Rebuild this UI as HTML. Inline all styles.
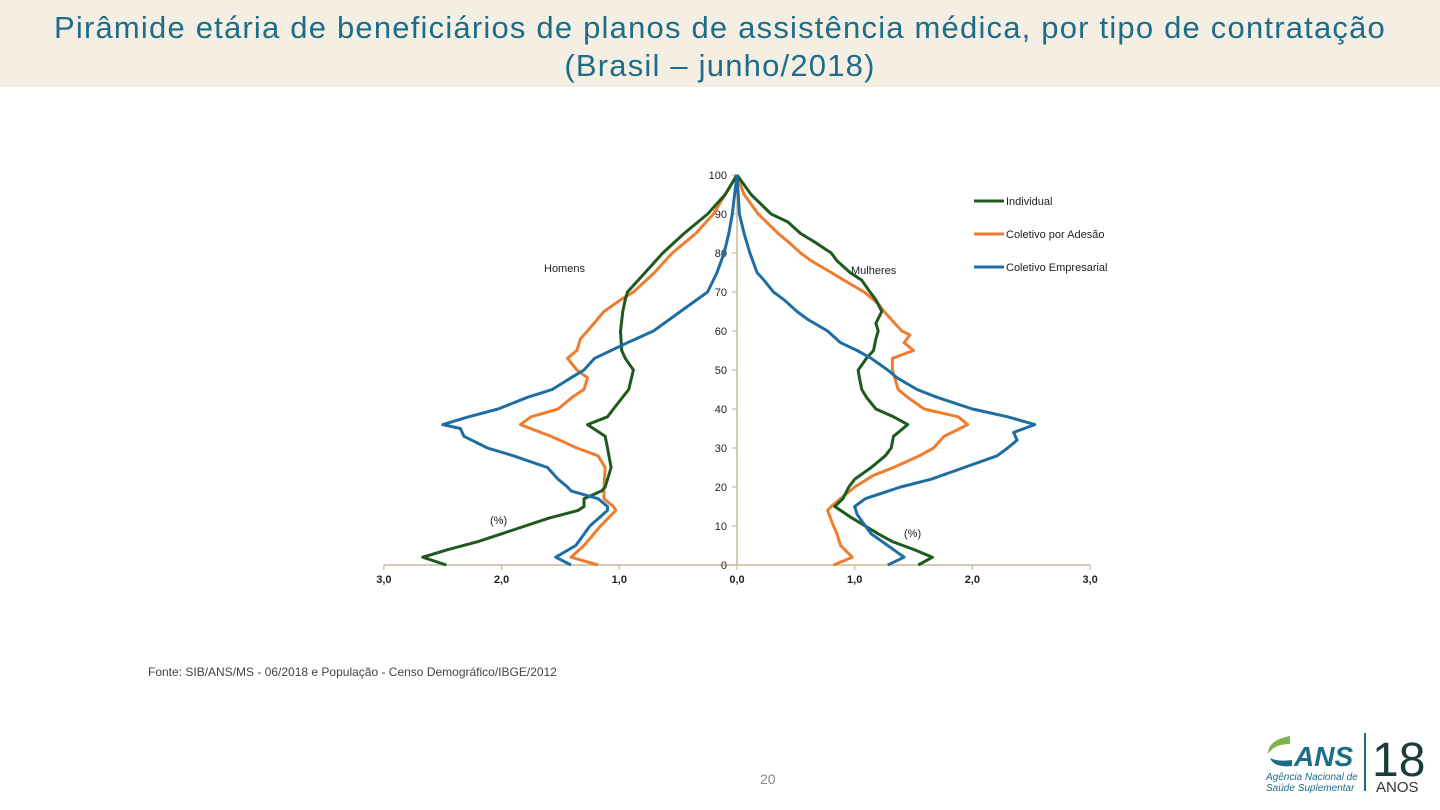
<!DOCTYPE html>
<html><head><meta charset="utf-8">
<style>
body{margin:0;width:1440px;height:810px;background:#fff;font-family:"Liberation Sans",sans-serif;overflow:hidden;position:relative}
#hdr{position:absolute;left:0;top:0;width:1440px;height:87px;background:#f5efe3}
#title{position:absolute;left:0;top:9px;width:1440px;text-align:center;color:#1d6d8a;font-size:31px;line-height:38px;letter-spacing:1.2px}
#src{position:absolute;left:148px;top:665px;font-size:12px;color:#444}
#pg{position:absolute;left:760px;top:771px;font-size:14px;color:#888}
svg{position:absolute;left:0;top:0}
</style></head><body>
<div id="hdr"></div>
<div id="title">Pirâmide etária de beneficiários de planos de assistência médica, por tipo de contratação<br>(Brasil – junho/2018)</div>
<svg id="chart" width="1440" height="810"></svg>
<div id="src">Fonte: SIB/ANS/MS - 06/2018 e População - Censo Demográfico/IBGE/2012</div>
<div id="pg">20</div>
<svg width="1440" height="810">
<path d="M1290 736 q-22 4 -22 18 q6 -10 22 -10z" fill="#7ab648"/>
<path d="M1270 758 q4 10 22 8 v-6 q-14 2 -22 -2z" fill="#1d6d8a"/>
<text x="1294" y="766" font-size="28" font-weight="bold" font-style="italic" fill="#1d6d8a" font-family="Liberation Sans">ANS</text>
<text x="1266" y="780" font-size="10" font-style="italic" fill="#1d6d8a" font-family="Liberation Sans">Agência Nacional de</text>
<text x="1266" y="791" font-size="10" font-style="italic" fill="#1d6d8a" font-family="Liberation Sans">Saúde Suplementar</text>
<rect x="1364" y="733" width="2" height="58" fill="#1d6d8a"/>
<text x="1372" y="776" font-size="48" fill="#1a3d3a" font-family="Liberation Sans">18</text>
<text x="1376" y="792" font-size="15" fill="#333" font-family="Liberation Sans">ANOS</text>
</svg>
<script>
const menIndAges=[0,2,4,6,8,10,12,14,15,17,19,20,25,30,33,36,38,40,45,50,53,55,60,65,68,70,75,80,85,90,95,100];
const menIndVals=[2.47,2.67,2.45,2.2,2.0,1.8,1.6,1.35,1.3,1.3,1.15,1.12,1.07,1.1,1.12,1.27,1.1,1.05,0.92,0.88,0.95,0.98,0.99,0.97,0.95,0.93,0.78,0.63,0.45,0.25,0.1,0];
const menAdeAges=[0,2,5,10,14,15,17,20,25,28,30,33,36,38,40,43,45,48,50,53,55,58,60,65,68,70,75,80,85,90,95,100];
const menAdeVals=[1.18,1.41,1.3,1.16,1.03,1.05,1.13,1.13,1.12,1.18,1.36,1.58,1.84,1.75,1.52,1.4,1.3,1.27,1.36,1.44,1.36,1.33,1.27,1.13,0.99,0.88,0.7,0.55,0.35,0.2,0.1,0];
const menEmpAges=[0,2,5,10,14,15,17,19,20,22,25,28,30,33,35,36,38,40,43,45,48,50,53,55,57,60,65,70,75,80,85,90,95,100];
const menEmpVals=[1.41,1.54,1.37,1.25,1.1,1.1,1.18,1.41,1.44,1.52,1.61,1.9,2.12,2.32,2.35,2.5,2.28,2.03,1.78,1.57,1.41,1.3,1.21,1.07,0.93,0.71,0.48,0.25,0.17,0.11,0.07,0.04,0.02,0];
const womIndAges=[0,2,4,6,8,10,12,15,17,20,22,25,28,30,33,36,38,40,43,45,48,50,53,55,58,60,62,65,68,70,73,75,78,80,83,85,88,90,95,100];
const womIndVals=[1.54,1.66,1.5,1.32,1.2,1.09,0.98,0.83,0.9,0.95,1.0,1.14,1.26,1.31,1.33,1.45,1.33,1.18,1.1,1.06,1.04,1.03,1.1,1.16,1.18,1.2,1.18,1.23,1.18,1.13,1.06,0.96,0.85,0.8,0.65,0.54,0.43,0.29,0.12,0];
const womAdeAges=[0,2,5,8,10,14,15,17,20,23,25,28,30,33,36,38,40,43,45,48,50,53,55,57,59,60,62,65,67,70,73,75,78,80,83,85,90,95,100];
const womAdeVals=[0.82,0.98,0.88,0.85,0.82,0.77,0.8,0.88,1.0,1.16,1.33,1.55,1.67,1.76,1.96,1.88,1.59,1.45,1.37,1.34,1.32,1.32,1.5,1.42,1.47,1.4,1.34,1.25,1.2,1.08,0.91,0.8,0.63,0.54,0.43,0.35,0.18,0.06,0];
const womEmpAges=[0,2,5,8,10,13,15,17,20,22,25,28,30,32,34,36,38,40,43,45,48,50,53,55,57,60,63,65,68,70,73,75,80,85,90,100];
const womEmpVals=[1.28,1.42,1.28,1.14,1.09,1.02,1.0,1.09,1.39,1.65,1.93,2.21,2.3,2.38,2.35,2.53,2.3,2.0,1.7,1.53,1.36,1.28,1.14,1.02,0.88,0.77,0.6,0.51,0.4,0.31,0.23,0.17,0.11,0.06,0.02,0];
const yTicks=[0,10,20,30,40,50,60,70,80,90,100];
const xTicks=[-3,-2,-1,0,1,2,3];
const xTickLabels=["3,0","2,0","1,0","0,0","1,0","2,0","3,0"];

const X0=737,XS=117.7,Y0=565,YS=3.9;
const xs=v=>X0+v*XS, ys=a=>Y0-a*YS;
const svg=document.getElementById('chart');
const NS='http://www.w3.org/2000/svg';
function mk(t,attrs){const e=document.createElementNS(NS,t);for(const k in attrs)e.setAttribute(k,attrs[k]);svg.appendChild(e);return e;}
let e;
e=mk('line',{x1:xs(-3),x2:xs(3),y1:Y0,y2:Y0,stroke:'#c9b99b','stroke-width':1.5});


e=mk('line',{x1:X0,x2:X0,y1:ys(100),y2:Y0,stroke:'#c9b99b','stroke-width':1.5});


yTicks.forEach(t=>{
 e=mk('line',{x1:X0-5,x2:X0,y1:ys(t),y2:ys(t),stroke:'#c9b99b','stroke-width':1.2});
 
 
 e=mk('text',{x:X0-10,y:ys(t)+4,'text-anchor':'end','font-size':11,fill:'#222','font-family':'Liberation Sans'});
 e.textContent=t;
 
 
});
xTicks.forEach((t,i)=>{
 e=mk('line',{x1:xs(t),x2:xs(t),y1:Y0,y2:Y0+5,stroke:'#c9b99b','stroke-width':1.2});
 
 
 e=mk('text',{x:xs(t),y:Y0+18,'text-anchor':'middle','font-size':11,'font-weight':'bold',fill:'#222','font-family':'Liberation Sans'});
 e.textContent=xTickLabels[i];
 
 
});
function series(ages,vals,sign,color,name){
 const d=ages.map((a,i)=>(i?'L':'M')+xs(sign*vals[i]).toFixed(1)+' '+ys(a).toFixed(1)).join(' ');
 e=mk('path',{d:d,fill:'none',stroke:color,'stroke-width':3,'stroke-linejoin':'round'});
 
 
}
const G='#1e5a1e',O='#ee7d2f',B='#1f6ea3';
series(menAdeAges,menAdeVals,-1,O,'men-adesao-line');
series(womAdeAges,womAdeVals,1,O,'women-adesao-line');
series(menIndAges,menIndVals,-1,G,'men-individual-line');
series(womIndAges,womIndVals,1,G,'women-individual-line');
series(menEmpAges,menEmpVals,-1,B,'men-empresarial-line');
series(womEmpAges,womEmpVals,1,B,'women-empresarial-line');
function txt(x,y,s,name,size){e=mk('text',{x:x,y:y,'font-size':size||11,fill:'#222','font-family':'Liberation Sans'});e.textContent=s;}
txt(544,272,'Homens','homens-label');
txt(851,274,'Mulheres','mulheres-label');
txt(490,524,'(%)','left-percent-label');
txt(904,537,'(%)','right-percent-label');
[['Individual',G,201],['Coletivo por Adesão',O,234],['Coletivo Empresarial',B,267]].forEach(l=>{
 e=mk('line',{x1:974,x2:1004,y1:l[2],y2:l[2],stroke:l[1],'stroke-width':3});
 
 
 txt(1006,l[2]+4,l[0],'legend-entry',11);
});
</script>
</body></html>
